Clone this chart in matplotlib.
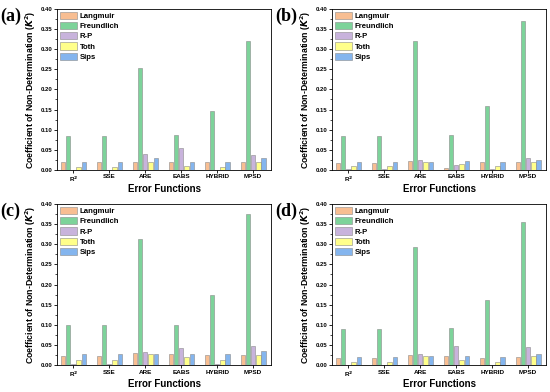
import matplotlib
matplotlib.use("Agg")
import matplotlib.pyplot as plt
from matplotlib.ticker import AutoMinorLocator
import numpy as np

plt.rcParams['font.family'] = ['Liberation Sans', 'DejaVu Sans']
plt.rcParams['font.weight'] = 'bold'

functions = ["R$^2$", "SSE", "ARE", "EABS", "HYBRID", "MPSD"]
models = ["Langmuir", "Freundlich", "R-P", "Toth", "Sips"]
colors = ["#F8BE92", "#7DD39A", "#C8B3DC", "#FFFF8A", "#84B5EE"]

# values per model, order of functions: R2, SSE, ARE, EABS, HYBRID, MPSD
panel_a = {
    "Langmuir":   [0.019, 0.019, 0.020, 0.020, 0.021, 0.020],
    "Freundlich": [0.084, 0.084, 0.252, 0.088, 0.147, 0.319],
    "R-P":        [0.001, 0.001, 0.041, 0.055, 0.001, 0.037],
    "Toth":       [0.007, 0.007, 0.021, 0.010, 0.007, 0.020],
    "Sips":       [0.020, 0.020, 0.030, 0.020, 0.020, 0.030],
}
panel_b = {
    "Langmuir":   [0.018, 0.018, 0.022, 0.006, 0.019, 0.019],
    "Freundlich": [0.085, 0.085, 0.320, 0.086, 0.159, 0.370],
    "R-P":        [0.003, 0.004, 0.026, 0.012, 0.004, 0.031],
    "Toth":       [0.011, 0.011, 0.020, 0.014, 0.011, 0.020],
    "Sips":       [0.019, 0.019, 0.021, 0.023, 0.019, 0.024],
}
panel_c = {
    "Langmuir":   [0.024, 0.024, 0.031, 0.027, 0.025, 0.026],
    "Freundlich": [0.100, 0.100, 0.314, 0.101, 0.174, 0.374],
    "R-P":        [0.003, 0.003, 0.032, 0.042, 0.003, 0.048],
    "Toth":       [0.013, 0.013, 0.028, 0.020, 0.013, 0.026],
    "Sips":       [0.027, 0.027, 0.027, 0.029, 0.027, 0.035],
}
panel_d = {
    "Langmuir":   [0.017, 0.017, 0.026, 0.022, 0.019, 0.020],
    "Freundlich": [0.090, 0.090, 0.293, 0.093, 0.162, 0.354],
    "R-P":        [0.001, 0.001, 0.029, 0.047, 0.001, 0.045],
    "Toth":       [0.009, 0.009, 0.022, 0.013, 0.009, 0.022],
    "Sips":       [0.021, 0.021, 0.023, 0.024, 0.021, 0.029],
}
panels = [("(a)", panel_a), ("(b)", panel_b), ("(c)", panel_c), ("(d)", panel_d)]
yticks = [0.00, 0.05, 0.10, 0.15, 0.20, 0.25, 0.30, 0.35, 0.40]


def draw(ax, label, data):
    x = np.arange(len(functions))
    step = 0.145
    for i, m in enumerate(models):
        ax.bar(x + (i - 2) * step, data[m], width=0.12, color=colors[i],
               edgecolor="#8a8a8a", linewidth=0.4, label=m)
    ax.set_xlim(-0.45, 5.5)
    ax.set_ylim(0, 0.40)
    ax.set_xticks(x)
    ax.set_xticklabels(functions, fontsize=4.6, fontweight="bold")
    ax.set_yticks(yticks)
    ax.set_yticklabels(["%.2f" % v for v in yticks], fontsize=4.3, fontweight="bold")
    ax.yaxis.set_minor_locator(AutoMinorLocator(2))
    ax.tick_params(length=2, width=0.6, pad=1.5)
    ax.tick_params(axis="x", pad=1)
    ax.tick_params(which="minor", length=1.2, width=0.5)
    for s in ax.spines.values():
        s.set_linewidth(0.6)
    ax.set_xlabel("Error Functions", fontsize=7, fontweight="bold", labelpad=0)
    ax.set_ylabel("Coefficient of Non-Determination ($\\mathbfit{K}^\\mathbf{2}$)",
                  fontsize=6.3, fontweight="bold", labelpad=2)
    ax.legend(loc="upper left", frameon=False, handlelength=2.2,
              handleheight=1.05, labelspacing=0.25, borderpad=0.2,
              borderaxespad=0.2, handletextpad=0.3,
              prop={"weight": "bold", "size": 5.6})
    ax.text(-0.265, 0.955, label, transform=ax.transAxes, fontsize=13,
            fontweight="bold", family="Liberation Serif", va="center", ha="left")


fig = plt.figure(figsize=(5.5, 3.92), dpi=100)
lefts = [0.104, 0.604, 0.104, 0.604]
bottoms = [0.566, 0.566, 0.068, 0.068]
for (label, data), l, b in zip(panels, lefts, bottoms):
    ax = fig.add_axes([l, b, 0.389, 0.412])
    draw(ax, label, data)

fig.savefig("out.png", dpi=100)
